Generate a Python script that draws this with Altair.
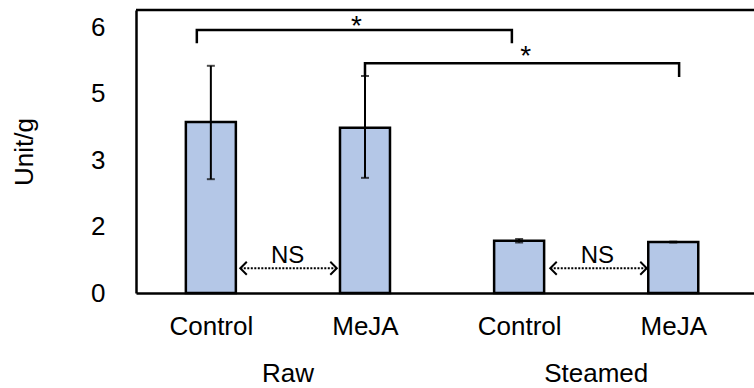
import altair as alt
import pandas as pd

# Enzyme activity per treatment (mean with error range)
groups = ["Raw", "Raw", "Steamed", "Steamed"]
treatments = ["Control", "MeJA", "Control", "MeJA"]
means = [3.86, 3.73, 1.18, 1.15]
err_low = [2.57, 2.60, 1.14, 1.14]
err_high = [5.13, 4.90, 1.22, 1.16]

# Significance brackets: left/right slot, top level and leg ends
br_left = [0.909, 2.0]
br_right = [2.953, 4.038]
br_top = [5.94, 5.19]
br_leg_left = [5.64, 4.90]
br_leg_right = [5.64, 4.88]
star_x = [1.945, 3.043]
star_y = [5.82, 5.15]

# "NS" comparisons within each group
ns_from = [1.191, 3.202]
ns_to = [1.817, 3.828]
ns_level = [0.56, 0.56]
ns_text_x = [1.498, 3.508]
ns_text_y = [0.68, 0.68]

group_names = ["Raw", "Steamed"]
group_x = [1.5, 3.5]
y_ticks = [0, 1.5, 3, 4.5, 6]

FONT = "Liberation Sans"
FILL = "#B4C7E7"
X_DOM = [0.5468, 4.4914]
Y_DOM = [0, 6.39]
W, H = 618, 283

bars = pd.DataFrame({
    "slot": list(range(1, len(means) + 1)),
    "group": groups,
    "treatment": treatments,
    "mean": means,
    "lo": err_low,
    "hi": err_high,
})

x_enc = alt.X("slot:Q", scale=alt.Scale(domain=X_DOM, nice=False, zero=False),
              axis=alt.Axis(values=[1, 2, 3, 4], title=None, ticks=False, grid=False,
                            domainColor="black", domainWidth=2.5,
                            labelExpr="datum.value % 2 == 1 ? 'Control' : 'MeJA'",
                            labelFont=FONT, labelFontSize=26, labelColor="black",
                            labelPadding=20))
y_enc = alt.Y("mean:Q", scale=alt.Scale(domain=Y_DOM, nice=False),
              axis=alt.Axis(values=y_ticks, format=".0f", title="Unit/g", ticks=False,
                            grid=False, domainColor="black", domainWidth=2.5,
                            labelFont=FONT, labelFontSize=26, labelColor="black",
                            labelPadding=31, titleFont=FONT, titleFontSize=26,
                            titleFontWeight="normal", titleColor="black",
                            titlePadding=53))

bar_layer = alt.Chart(bars).mark_bar(size=50, fill=FILL, stroke="black",
                                     strokeWidth=2.5).encode(x=x_enc, y=y_enc)

err_rule = alt.Chart(bars).mark_rule(color="black", strokeWidth=2).encode(
    x="slot:Q", y="lo:Q", y2="hi:Q")
cap_lo = alt.Chart(bars).mark_tick(color="black", thickness=2, size=8,
                                   orient="horizontal").encode(x="slot:Q", y="lo:Q")
cap_hi = alt.Chart(bars).mark_tick(color="black", thickness=2, size=8,
                                   orient="horizontal").encode(x="slot:Q", y="hi:Q")

# Bracket paths
br_rows = []
for i in range(len(br_left)):
    pts = [(br_left[i], br_leg_left[i]), (br_left[i], br_top[i]),
           (br_right[i], br_top[i]), (br_right[i], br_leg_right[i])]
    for k, (px, py) in enumerate(pts):
        br_rows.append({"b": i, "k": k, "bx": px, "by": py})
brackets = alt.Chart(pd.DataFrame(br_rows)).mark_line(
    color="black", strokeWidth=2.5, strokeJoin="miter").encode(
    x="bx:Q", y="by:Q", detail="b:N", order="k:Q")

stars = alt.Chart(pd.DataFrame({"sx": star_x, "sy": star_y, "t": ["*", "*"]})).mark_text(
    font=FONT, fontSize=28, color="black", baseline="alphabetic", align="center").encode(
    x="sx:Q", y="sy:Q", text="t:N")

ns_df = pd.DataFrame({"a": ns_from, "b": ns_to, "lvl": ns_level,
                      "tx": ns_text_x, "ty": ns_text_y, "t": ["NS", "NS"]})
ns_line = alt.Chart(ns_df).mark_rule(color="black", strokeWidth=2,
                                     strokeDash=[2, 1.5]).encode(
    x="a:Q", x2="b:Q", y="lvl:Q")
ns_left = alt.Chart(ns_df).mark_point(shape="M 1 -1 L 0 0 L 1 1", size=169, filled=False,
                                      color="black", strokeWidth=2, opacity=1,
                                      strokeJoin="miter").encode(x="a:Q", y="lvl:Q")
ns_right = alt.Chart(ns_df).mark_point(shape="M -1 -1 L 0 0 L -1 1", size=169, filled=False,
                                       color="black", strokeWidth=2, opacity=1,
                                       strokeJoin="miter").encode(x="b:Q", y="lvl:Q")
ns_text = alt.Chart(ns_df).mark_text(font=FONT, fontSize=24, color="black",
                                     baseline="alphabetic", align="center").encode(
    x="tx:Q", y="ty:Q", text="t:N")

# Group names under the treatment labels
grp = alt.Chart(pd.DataFrame({"gx": group_x, "g": group_names})).mark_text(
    font=FONT, fontSize=26, color="black", baseline="alphabetic", align="center").encode(
    x="gx:Q", y=alt.datum(-2.01), text="g:N")

# Top edge of the frame
top_edge = alt.Chart(pd.DataFrame({"v": [Y_DOM[1]]})).mark_rule(
    color="black", strokeWidth=2.5).encode(x=alt.value(0), x2=alt.value(W), y="v:Q")

# Label of the next panel, running off the bottom edge
panel = alt.Chart(pd.DataFrame({"t": ["(B)"]})).mark_text(
    font=FONT, fontSize=26, color="black", baseline="alphabetic", align="left").encode(
    x=alt.value(-134), y=alt.value(400), text="t:N")

chart = alt.layer(
    bar_layer, err_rule, cap_lo, cap_hi, brackets, stars,
    ns_line, ns_left, ns_right, ns_text, grp, top_edge, panel
).properties(
    width=W, height=H,
    padding={"left": 136, "top": 10, "right": 0, "bottom": 95},
    autosize=alt.AutoSizeParams(type="none"),
).configure_view(stroke=None).configure(background="white")

chart.save("out.html", embed_options={"renderer": "svg", "actions": False})
